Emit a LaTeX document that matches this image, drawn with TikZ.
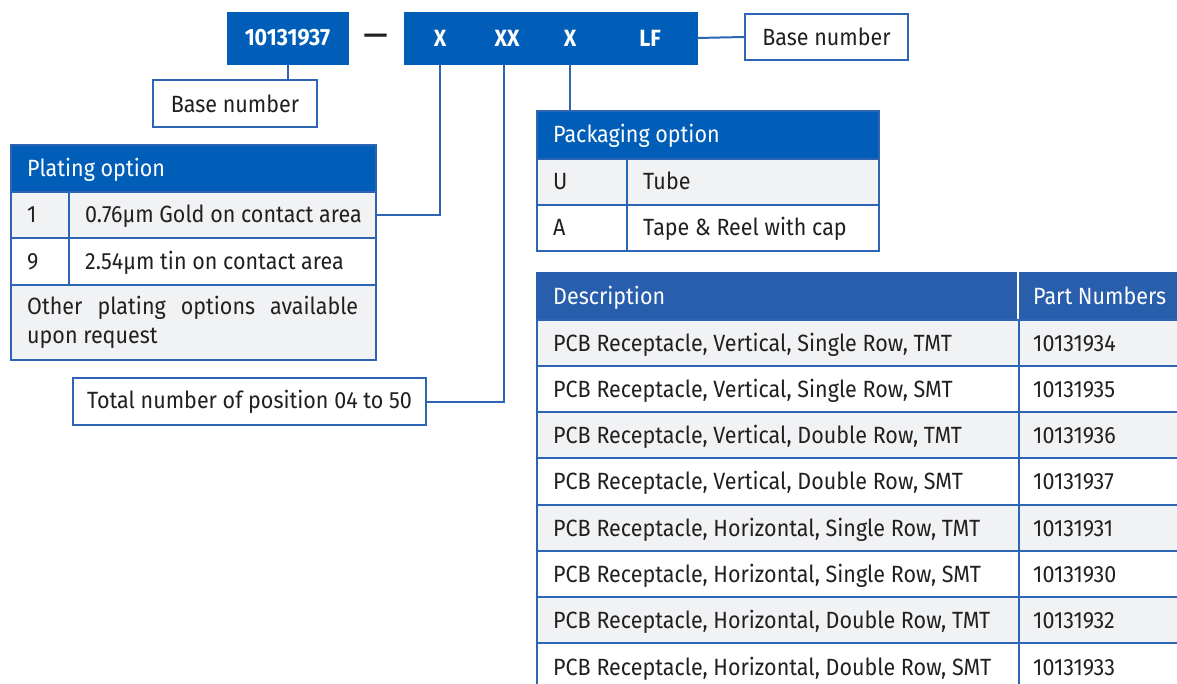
\documentclass[tikz,border=0pt]{standalone}
\usepackage{fontspec}
\setmainfont{Fira Sans}[FakeStretch=0.915]
\newfontfamily\dashfont{DejaVu Sans}
\definecolor{fillblue}{RGB}{0,94,184}
\definecolor{hdrblue}{RGB}{40,94,172}
\definecolor{bd}{RGB}{46,100,180}
\definecolor{rowgray}{RGB}{241,242,244}
\definecolor{tx}{RGB}{35,31,32}
\newcommand\cellx[7]{%
  \node[cellr,fill=#6,minimum width=#4pt,minimum height=#5pt] (#1) at (#2,#3) {};
  \node[txt] (#1t) at ([xshift=17pt]#1.west) {#7};}
\tikzset{
  cellr/.style={draw=bd, line width=2pt, anchor=north west, inner sep=0pt},
  txt/.style={anchor=west, inner sep=0pt, text height=16pt, text depth=0pt, text=tx, font=\fontsize{23.5}{29}\selectfont},
  htxt/.style={txt, text=white},
  codebox/.style={fill=fillblue, draw=fillblue, inner sep=0pt, minimum height=52pt},
  codetxt/.style={text=white, inner sep=0pt, font=\fontsize{23.5}{29}\selectfont\bfseries},
  labelbox/.style={draw=bd, line width=2pt, fill=white, inner sep=0pt, text=tx, font=\fontsize{23.5}{29}\selectfont},
  conn/.style={draw=bd, line width=2pt}
}
\begin{document}
\begin{tikzpicture}[x=1pt,y=-1pt]
\useasboundingbox (0,0) rectangle (1177,684);
\clip (0,0) rectangle (1177,684);
% top code
\node[codebox, minimum width=121pt] (code1) at (287.5,38) {};
\node[codetxt] (c1t) at (287.5,38) {10131937};
\node[text=tx, inner sep=0pt, font=\fontsize{25}{29}\dashfont\bfseries] (dash) at (375.5,38) {—};
\node[codebox, minimum width=293pt] (code2) at (550.5,38) {};
\node[codetxt] (nX1) at (440,38) {X};
\node[codetxt] (nXX) at (507,38) {XX};
\node[codetxt] (nX2) at (570,38) {X};
\node[codetxt] (nLF) at (650,38) {LF};
% label boxes
\node[labelbox, minimum width=163pt, minimum height=46pt] (base2) at (826.5,37) {Base number};
\node[labelbox, minimum width=164pt, minimum height=47pt] (base1) at (235,103.5) {Base number};
\node[labelbox, minimum width=353pt, minimum height=47pt] (tot) at (249.5,401.5) {Total number of position 04 to 50};
% plating table
\node[cellr, fill=fillblue, draw=bd, minimum width=365pt, minimum height=47pt] (ph) at (10,144) {};
\node[htxt] (pht) at ([xshift=17pt]ph.west) {Plating option};
\cellx{pa1}{10}{191}{58}{46}{rowgray}{1}
\cellx{pb1}{68}{191}{307}{46}{rowgray}{0.76µm Gold on contact area}
\cellx{pa2}{10}{237}{58}{47}{white}{9}
\cellx{pb2}{68}{237}{307}{47}{white}{2.54µm tin on contact area}
\node[cellr, fill=rowgray, minimum width=365pt, minimum height=75pt] (pc3) at (10,284) {};
\node[anchor=base west, inner sep=0pt, text=tx, font=\fontsize{23.5}{29}\selectfont] (pc3t) at (27,315) {\parbox[t]{331pt}{Other plating options available upon request}};
% packaging table
\node[cellr, fill=fillblue, minimum width=342pt, minimum height=48pt] (kh) at (536,110) {};
\node[htxt] (kht) at ([xshift=17pt]kh.west) {Packaging option};
\cellx{ka1}{536}{158}{90}{46}{rowgray}{U}
\cellx{kb1}{626}{158}{252}{46}{rowgray}{Tube}
\cellx{ka2}{536}{204}{90}{46}{white}{A}
\cellx{kb2}{626}{204}{252}{46}{white}{Tape \& Reel with cap}
% description table
\node[cellr, fill=hdrblue, draw=hdrblue, minimum width=482pt, minimum height=47pt] (dh1) at (536,272) {};
\node[cellr, fill=hdrblue, draw=hdrblue, minimum width=180pt, minimum height=47pt] (dh2) at (1018,272) {};
\draw[white, line width=2.5pt] (dh2.north west) -- (dh2.south west);
\node[htxt] (dh1t) at ([xshift=17pt]dh1.west) {Description};
\node[htxt] (dh2t) at ([xshift=15pt]dh2.west) {Part Numbers};
\cellx{d1}{536}{319}{482}{46}{rowgray}{PCB Receptacle, Vertical, Single Row, TMT}
\cellx{e1}{1018}{319}{180}{46}{rowgray}{\hspace{-2pt}10131934}
\cellx{d2}{536}{365}{482}{46}{white}{PCB Receptacle, Vertical, Single Row, SMT}
\cellx{e2}{1018}{365}{180}{46}{white}{\hspace{-2pt}10131935}
\cellx{d3}{536}{411}{482}{46}{rowgray}{PCB Receptacle, Vertical, Double Row, TMT}
\cellx{e3}{1018}{411}{180}{46}{rowgray}{\hspace{-2pt}10131936}
\cellx{d4}{536}{457}{482}{47}{white}{PCB Receptacle, Vertical, Double Row, SMT}
\cellx{e4}{1018}{457}{180}{47}{white}{\hspace{-2pt}10131937}
\cellx{d5}{536}{504}{482}{46}{rowgray}{PCB Receptacle, Horizontal, Single Row, TMT}
\cellx{e5}{1018}{504}{180}{46}{rowgray}{\hspace{-2pt}10131931}
\cellx{d6}{536}{550}{482}{46}{white}{PCB Receptacle, Horizontal, Single Row, SMT}
\cellx{e6}{1018}{550}{180}{46}{white}{\hspace{-2pt}10131930}
\cellx{d7}{536}{596}{482}{46}{rowgray}{PCB Receptacle, Horizontal, Double Row, TMT}
\cellx{e7}{1018}{596}{180}{46}{rowgray}{\hspace{-2pt}10131932}
\cellx{d8}{536}{642}{482}{48}{white}{PCB Receptacle, Horizontal, Double Row, SMT}
\cellx{e8}{1018}{642}{180}{48}{white}{\hspace{-2pt}10131933}
% connectors
\draw[conn] (code1.south) -- (code1.south |- base1.north);
\draw[conn] (code2.east) -- (base2.west);
\draw[conn] (nX1 |- code2.south) |- (pb1.east);
\draw[conn] ([xshift=-3pt]nXX.center |- code2.south) |- (tot.east);
\draw[conn] (nX2 |- code2.south) -- (nX2 |- kh.north);
\end{tikzpicture}
\end{document}
